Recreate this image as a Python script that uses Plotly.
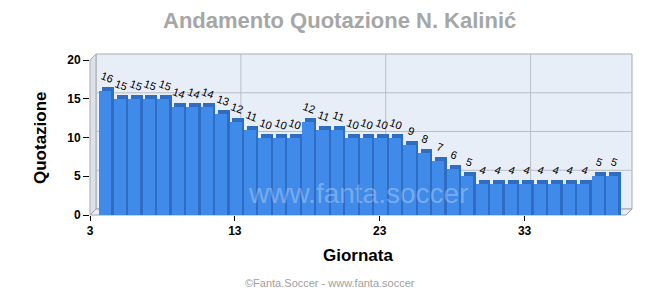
import plotly.graph_objects as go

# ---- data ----
giornate = list(range(3, 39))
quotazioni = [16, 15, 15, 15, 15, 14, 14, 14, 13, 12, 11, 10, 10, 10, 12, 11, 11, 10,
              10, 10, 10, 9, 8, 7, 6, 5, 4, 4, 4, 4, 4, 4, 4, 4, 5, 5]
x_ticks = [3, 13, 23, 33]
y_ticks = [0, 5, 10, 15, 20]
title_text = "Andamento Quotazione N. Kalinić"
x_title = "Giornata"
y_title = "Quotazione"
watermark = "www.fanta.soccer"
footer = "©Fanta.Soccer - www.fanta.soccer"

# ---- layout geometry ----
FW, FH = 660, 300
L, R, T, B = 90, 626, 60, 215
W, H = R - L, B - T
XR = [3, 40]
YR = [0, 20]
D = 6  # 3D depth in px

def px_x(px):
    return (px - L) / W

def px_y(py):
    return (B - py) / H

def vx(v):  # data x -> px
    return L + (v - XR[0]) / (XR[1] - XR[0]) * W

def vy(v):  # data y -> px
    return B - (v - YR[0]) / (YR[1] - YR[0]) * H

fig = go.Figure()

# depth (side/top) faces of bars
fig.add_trace(go.Bar(
    x=giornate, y=[q + 0.5 for q in quotazioni],
    offset=0.83, width=0.8,
    marker=dict(color="#2f6cc4", line=dict(width=0)),
    hoverinfo="skip", showlegend=False,
))
# front faces
fig.add_trace(go.Bar(
    x=giornate, y=quotazioni,
    offset=0.63, width=0.84,
    marker=dict(color="#408ae9", line=dict(width=0)),
    showlegend=False,
))

shapes = []
# back wall
shapes.append(dict(type="rect", xref="paper", yref="paper",
                   x0=px_x(L + D), x1=px_x(R + D), y0=px_y(B - D), y1=px_y(T - D),
                   fillcolor="#e8eef8", line=dict(color="#a9abb0", width=1), layer="below"))
# left wall
shapes.append(dict(type="path", xref="paper", yref="paper",
                   path=f"M {px_x(L)},{px_y(B)} L {px_x(L)},{px_y(T)} L {px_x(L + D)},{px_y(T - D)} "
                        f"L {px_x(L + D)},{px_y(B - D)} Z",
                   fillcolor="#dde1e8", line=dict(color="#a9abb0", width=1), layer="below"))
# floor
shapes.append(dict(type="path", xref="paper", yref="paper",
                   path=f"M {px_x(L)},{px_y(B)} L {px_x(R)},{px_y(B)} L {px_x(R + D)},{px_y(B - D)} "
                        f"L {px_x(L + D)},{px_y(B - D)} Z",
                   fillcolor="#e9edf3", line=dict(color="#a0a2a8", width=1), layer="below"))
# grid lines on back wall
for v in y_ticks[1:-1]:
    shapes.append(dict(type="line", xref="paper", yref="paper",
                       x0=px_x(L + D), x1=px_x(R + D), y0=px_y(vy(v) - D), y1=px_y(vy(v) - D),
                       line=dict(color="#babdc6", width=1), layer="below"))
for t in x_ticks[1:]:
    shapes.append(dict(type="line", xref="paper", yref="paper",
                       x0=px_x(vx(t) + D), x1=px_x(vx(t) + D), y0=px_y(B - D), y1=px_y(T - D),
                       line=dict(color="#babdc6", width=1), layer="below"))

def ann(px, py, text, size, color, bold=False, angle=0):
    return dict(x=px_x(px), y=px_y(py), xref="paper", yref="paper",
                text=f"<b>{text}</b>" if bold else text,
                showarrow=False, xanchor="center", yanchor="middle", textangle=angle,
                font=dict(family="Liberation Sans, Arial", size=size, color=color))

annotations = []
for g, q in zip(giornate, quotazioni):
    annotations.append(dict(x=g + 1.15, y=q, xref="x", yref="y", text=str(q),
                            showarrow=False, yshift=14, textangle=20,
                            xanchor="center", yanchor="middle",
                            font=dict(family="Liberation Sans, Arial", size=11, color="#000000")))
annotations.append(ann(358, 193, watermark, 28, "rgba(255,255,255,0.3)"))
annotations.append(ann(339, 21, title_text, 22, "#a6a6a6", bold=True))
annotations.append(ann(358, 255, x_title, 17, "#000000", bold=True))
annotations.append(ann(40, 138, y_title, 17, "#000000", bold=True, angle=-90))
annotations.append(ann(330, 283, footer, 11, "#a0a0a0"))

tickfont = dict(family="Liberation Sans Narrow, Liberation Sans, Arial", size=12,
                color="#000000", weight="bold")
fig.update_layout(
    width=FW, height=FH,
    margin=dict(l=L, r=FW - R, t=T, b=FH - B, pad=0),
    paper_bgcolor="#ffffff", plot_bgcolor="rgba(0,0,0,0)",
    barmode="overlay", bargap=0,
    shapes=shapes, annotations=annotations,
    xaxis=dict(range=XR, tickvals=x_ticks, ticks="outside", ticklen=5, tickcolor="#000000",
               showgrid=False, zeroline=False, showline=False, tickfont=tickfont, fixedrange=True),
    yaxis=dict(range=YR, tickvals=y_ticks, ticks="outside", ticklen=6, tickcolor="#000000",
               showgrid=False, zeroline=False, showline=False, tickfont=tickfont, fixedrange=True),
    showlegend=False,
)

fig.write_html("out.html")
